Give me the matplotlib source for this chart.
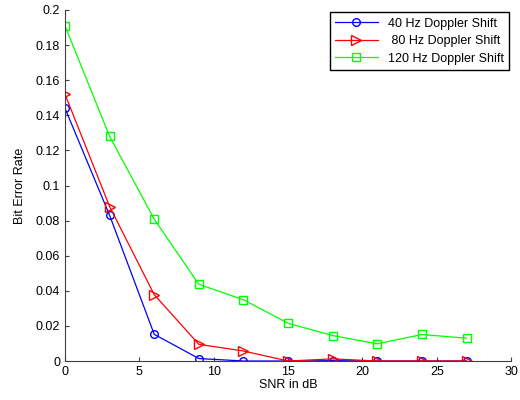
import matplotlib
matplotlib.use("Agg")
import matplotlib.pyplot as plt

plt.rcParams['font.family'] = ['Liberation Sans', 'DejaVu Sans']

snr_db = [0, 3, 6, 9, 12, 15, 18, 21, 24, 27]
ber_40 = [0.144, 0.083, 0.0152, 0.0014, 0.0, 0.0, 0.0002, 0.0, 0.0, 0.0]
ber_80 = [0.152, 0.088, 0.0378, 0.0095, 0.0057, 0.0, 0.0012, 0.0, 0.0, 0.0]
ber_120 = [0.191, 0.128, 0.0808, 0.0437, 0.0349, 0.0215, 0.0145, 0.0098, 0.0151, 0.013]

fig = plt.figure(figsize=(5.2, 4.0), dpi=100)
ax = fig.add_axes([0.125, 0.0975, 0.858, 0.8775])

ax.plot(snr_db, ber_40, color='#0000ff', marker='o', markersize=5.5,
        markerfacecolor='none', linewidth=0.9, label='40 Hz Doppler Shift')
ax.plot(snr_db, ber_80, color='#ff0000', marker='>', markersize=6.5,
        markerfacecolor='none', linewidth=0.9, label=' 80 Hz Doppler Shift')
ax.plot(snr_db, ber_120, color='#00ff00', marker='s', markersize=6,
        markerfacecolor='none', linewidth=0.9, label='120 Hz Doppler Shift')

ax.set_xlim(0, 30)
ax.set_ylim(0, 0.2)
ax.set_xticks(range(0, 31, 5))
ax.set_yticks([i * 0.02 for i in range(11)])
ax.set_yticklabels(['0', '0.02', '0.04', '0.06', '0.08', '0.1', '0.12',
                    '0.14', '0.16', '0.18', '0.2'])
ax.spines['top'].set_visible(False)
ax.spines['right'].set_visible(False)
ax.spines['left'].set_color('#404040')
ax.spines['bottom'].set_color('#404040')
ax.tick_params(direction='in', length=3, labelsize=9, color='#404040')

ax.set_xlabel('SNR in dB', fontsize=9, labelpad=1)
ax.set_ylabel('Bit Error Rate', fontsize=9, labelpad=7)

leg = ax.legend(loc='upper right', fontsize=9, fancybox=False,
                edgecolor='black', framealpha=1, borderaxespad=0.15,
                handlelength=3.4, labelspacing=0.45, borderpad=0.45)
leg.get_frame().set_linewidth(1)

fig.savefig('out.png', dpi=100)
